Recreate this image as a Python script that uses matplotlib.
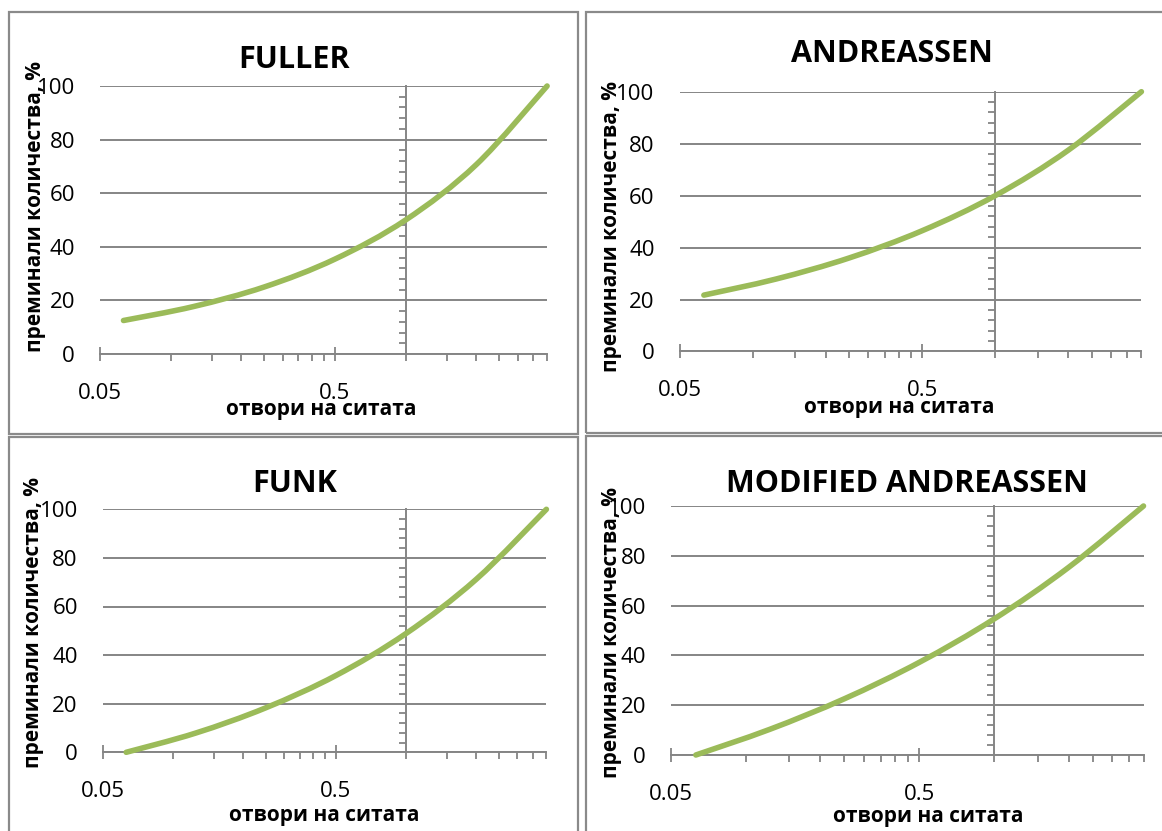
import numpy as np
import matplotlib
matplotlib.use('Agg')
import matplotlib.pyplot as plt
from matplotlib.path import Path
from matplotlib.patches import PathPatch, Rectangle
from matplotlib.ticker import FixedLocator, MultipleLocator, NullFormatter

plt.rcParams['font.family'] = ['Open Sans', 'DejaVu Sans']

# отвори на ситата, mm
sieves = [0.063, 0.125, 0.25, 0.5, 1, 2, 4]
# преминали количества, %
fuller = [12.5, 17.7, 25.0, 35.4, 50.0, 70.7, 100]
andreassen = [21.7, 27.9, 36.0, 46.5, 60.0, 77.5, 100]
funk = [0, 7.9, 18.3, 31.6, 48.9, 71.2, 100]
mod_andreassen = [0, 10.3, 22.6, 37.2, 54.6, 75.4, 100]

titles = ['FULLER', 'ANDREASSEN', 'FUNK', 'MODIFIED ANDREASSEN']
curves = [fuller, andreassen, funk, mod_andreassen]

x_major = [0.05, 0.5]
x_major_labels = ['0.05', '0.5']
x_minor = [0.1, 0.15, 0.2, 0.25, 0.3, 0.35, 0.4, 0.45,
           1, 1.5, 2, 2.5, 3, 3.5, 4]
y_ticks = [0, 20, 40, 60, 80, 100]
x_cross = 1          # вертикалната ос пресича при 1
x_lim = (0.05, 4)

GRAY = '#858585'
GREEN = '#9BBB59'
W, H = 1162, 831

# рамка, зона на графиката (ляво, горе, дясно, долу), заглавие, оси - в пиксели
layout = [
    dict(box=(9.3, 12.3, 578.3, 434), plot=(99.9, 86, 547.1, 354),
         title=(294, 68), ylab=(41, 207), xlab=(321, 415)),
    dict(box=(585.7, 12.3, 1175, 433.3), plot=(679.5, 91.7, 1141.4, 351.5),
         title=(892, 62), ylab=(617, 227), xlab=(899, 413)),
    dict(box=(9.3, 436.7, 578.3, 845), plot=(102.8, 509.3, 546.4, 752.3),
         title=(295, 492), ylab=(39, 622), xlab=(324, 821)),
    dict(box=(585.7, 436, 1175, 845), plot=(670.9, 506, 1143.5, 755),
         title=(907, 492), ylab=(617, 632), xlab=(928, 822)),
]


def fx(px):
    return px / W


def fy(py):
    return 1 - py / H


def smooth_path(xs, ys):
    # гладка линия (Безие) в логаритмичен мащаб по x
    u = np.log10(np.asarray(xs, float))
    v = np.asarray(ys, float)
    n = len(u)
    verts = [(xs[0], ys[0])]
    codes = [Path.MOVETO]
    for i in range(n - 1):
        i0, i2 = max(i - 1, 0), min(i + 2, n - 1)
        c1 = (u[i] + (u[i + 1] - u[i0]) / 6, v[i] + (v[i + 1] - v[i0]) / 6)
        c2 = (u[i + 1] - (u[i2] - u[i]) / 6, v[i + 1] - (v[i2] - v[i]) / 6)
        verts += [(10 ** c1[0], c1[1]), (10 ** c2[0], c2[1]), (xs[i + 1], ys[i + 1])]
        codes += [Path.CURVE4] * 3
    return Path(verts, codes)


fig = plt.figure(figsize=(W / 100, H / 100), dpi=100)

for title, vals, lay in zip(titles, curves, layout):
    bx0, by0, bx1, by1 = lay['box']
    fig.add_artist(Rectangle((fx(bx0), fy(by1)), fx(bx1 - bx0), (by1 - by0) / H,
                             transform=fig.transFigure, fill=False,
                             edgecolor='#8A8A8A', linewidth=1.6))

    l, t, r, b = lay['plot']
    ax = fig.add_axes([fx(l), fy(b), fx(r - l), (b - t) / H])
    ax.set_xscale('log')
    ax.set_xlim(*x_lim)
    ax.set_ylim(0, 100)

    for s in ['top', 'right', 'left']:
        ax.spines[s].set_visible(False)
    ax.spines['bottom'].set_color(GRAY)
    ax.spines['bottom'].set_linewidth(1.4)

    ax.xaxis.set_major_locator(FixedLocator(x_major))
    ax.set_xticklabels(x_major_labels)
    ax.xaxis.set_minor_locator(FixedLocator(x_minor))
    ax.xaxis.set_minor_formatter(NullFormatter())
    ax.tick_params(axis='x', which='major', direction='inout', length=9.5,
                   width=1.3, color=GRAY, pad=16, labelsize=16)
    ax.tick_params(axis='x', which='minor', direction='out', length=5,
                   width=1.3, color=GRAY)

    ax.set_yticks(y_ticks)
    ax.tick_params(axis='y', length=0, pad=18, labelsize=16)
    ax.yaxis.grid(True, color=GRAY, linewidth=1.4)
    ax.set_axisbelow(True)

    # вертикална ос при x = 1, без надписи
    loc = np.log10(x_cross / x_lim[0]) / np.log10(x_lim[1] / x_lim[0])
    sec = ax.secondary_yaxis(loc)
    sec.set_alignment('left')
    sec.set_yticks(y_ticks)
    sec.yaxis.set_major_formatter(NullFormatter())
    sec.yaxis.set_minor_locator(MultipleLocator(4))
    sec.yaxis.set_minor_formatter(NullFormatter())
    sec.tick_params(which='major', length=0)
    sec.tick_params(which='minor', direction='out', length=5, width=1.3,
                    color=GRAY)
    for s in sec.spines.values():
        s.set_color(GRAY)
        s.set_linewidth(1.4)

    ax.add_patch(PathPatch(smooth_path(sieves, vals), fill=False, edgecolor=GREEN,
                           linewidth=4, capstyle='round', zorder=3, clip_on=False))

    fig.text(fx(lay['title'][0]), fy(lay['title'][1]), title, ha='center',
             va='baseline', fontsize=22, fontweight='bold')
    fig.text(fx(lay['xlab'][0]), fy(lay['xlab'][1]), 'отвори на ситата',
             ha='center', va='baseline', fontsize=15, fontweight='bold')
    fig.text(fx(lay['ylab'][0]), fy(lay['ylab'][1]), 'преминали количества, %',
             rotation=90, rotation_mode='anchor', ha='center', va='baseline',
             fontsize=15, fontweight='bold')

fig.savefig('out.png', dpi=100)
